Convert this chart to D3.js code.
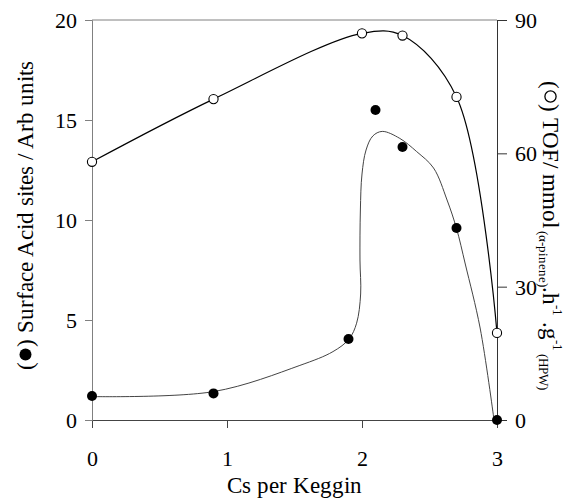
<!DOCTYPE html>
<html>
<head>
<meta charset="utf-8">
<script src="https://cdn.jsdelivr.net/npm/d3@7"></script>
<style>
  @font-face { font-family: "ChartSerif"; src: local("Liberation Serif"), local("LiberationSerif"), local("Tinos"); }
</style>
</head>
<body style="margin:0">
<svg id="chart" width="582" height="498"></svg>
<script>
// Cs loading (per Keggin unit)
const csTOF = [0, 0.9, 2.0, 2.3, 2.7, 3.0];
const tofValues = [58.1, 72.2, 87.0, 86.5, 72.7, 19.6];

const csAcid = [0, 0.9, 1.9, 2.1, 2.3, 2.7, 3.0];
const acidValues = [1.2, 1.33, 4.05, 15.5, 13.65, 9.6, 0];

// hand-drawn trend line through the acid-site data
const fitX = [0, 0.9, 1.54, 1.785, 1.904, 1.96, 1.99, 1.985, 1.988, 2.0, 2.03, 2.08, 2.15, 2.28, 2.405, 2.53, 2.63, 2.70, 2.765, 2.875, 2.975];
const fitY = [1.17, 1.42, 2.73, 3.42, 4.05, 4.84, 6.3, 8.0, 10.5, 12.3, 13.5, 14.2, 14.43, 14.08, 13.42, 12.6, 11.0, 9.58, 7.8, 4.6, 0.15];

const xTicks = [0, 1, 2, 3];
const leftTicks = [0, 5, 10, 15, 20];
const rightTicks = [0, 30, 60, 90];

const svg = d3.select("#chart");
const L = 92, R = 497, T = 20, B = 420;

const x = d3.scaleLinear().domain([0, 3]).range([L, R]);
const yL = d3.scaleLinear().domain([0, 20]).range([B, T]);
const yR = d3.scaleLinear().domain([0, 90]).range([B, T]);

const SERIF = 'ChartSerif, "Liberation Serif", "Times New Roman", serif';
function serif(sel, size) {
  return sel.attr("font-family", SERIF).style("font-family", SERIF).attr("font-size", size);
}

// frame
svg.append("line").attr("x1", L).attr("x2", R).attr("y1", T).attr("y2", T)
  .attr("stroke", "#808080").attr("stroke-width", 1);

function styleAxis(g, color) {
  serif(g, 22);
  g.selectAll("path").attr("stroke", color).attr("stroke-width", 1);
  g.selectAll("line").attr("stroke", color).attr("stroke-width", 1);
  serif(g.selectAll("text").attr("fill", "#000"), 22);
}

const gx = svg.append("g").attr("transform", `translate(0,${B})`)
  .call(d3.axisBottom(x).tickValues(xTicks).tickFormat(d3.format("d")).tickSizeOuter(0).tickSize(8).tickPadding(22));
styleAxis(gx, "#444");
gx.selectAll("text").attr("dy", "0.71em");

const gl = svg.append("g").attr("transform", `translate(${L},0)`)
  .call(d3.axisLeft(yL).tickValues(leftTicks).tickFormat(d3.format("d")).tickSizeOuter(0).tickSize(7).tickPadding(8));
styleAxis(gl, "#808080");
gl.selectAll("text").attr("dy", "0.34em");

const gr = svg.append("g").attr("transform", `translate(${R},0)`)
  .call(d3.axisRight(yR).tickValues(rightTicks).tickFormat(d3.format("d")).tickSizeOuter(0).tickSize(10).tickPadding(8));
styleAxis(gr, "#333");
gr.selectAll("text").attr("dy", "0.34em");

// acid-site trend line
const fitPts = fitX.map((d, i) => [x(d), yL(fitY[i])]);
svg.append("path")
  .attr("d", d3.line().curve(d3.curveCatmullRom.alpha(0.5))(fitPts))
  .attr("fill", "none").attr("stroke", "#444").attr("stroke-width", 1);

// TOF line through the points
const tofPts = csTOF.map((d, i) => [x(d), yR(tofValues[i])]);
svg.append("path")
  .attr("d", d3.line().curve(d3.curveCatmullRom.alpha(0.5))(tofPts))
  .attr("fill", "none").attr("stroke", "#000").attr("stroke-width", 1.2);

// acid-site markers
svg.append("g").selectAll("circle").data(csAcid).join("circle")
  .attr("cx", d => x(d)).attr("cy", (d, i) => yL(acidValues[i]))
  .attr("r", 5).attr("fill", "#000");

// TOF markers
svg.append("g").selectAll("circle").data(csTOF).join("circle")
  .attr("cx", d => x(d)).attr("cy", (d, i) => yR(tofValues[i]))
  .attr("r", 4.6).attr("fill", "#fff").attr("stroke", "#000").attr("stroke-width", 1.1);

// x title
serif(svg.append("text"), 23)
  .attr("x", (L + R) / 2).attr("y", 493)
  .attr("text-anchor", "middle")
  .text("Cs per Keggin");

// rotated title with a marker symbol drawn between the brackets
function symbolTitle(tx, ty, angle, build, filled) {
  const g = svg.append("g").attr("transform", `translate(${tx},${ty}) rotate(${angle})`);
  const t = serif(g.append("text"), 23).attr("x", 0).attr("y", 0);
  t.append("tspan").text("(");
  t.append("tspan").attr("dx", 15).text(")");
  build(t);
  const node = t.node();
  const len = node.getComputedTextLength();
  t.attr("x", -len / 2);
  const a = node.getStartPositionOfChar(1).x;
  const open = node.getStartPositionOfChar(0).x + node.getSubStringLength(0, 1);
  g.append("circle")
    .attr("cx", (open + a) / 2).attr("cy", -7.5).attr("r", filled ? 6 : 5.6)
    .attr("fill", filled ? "#000" : "#fff")
    .attr("stroke", "#000").attr("stroke-width", filled ? 0 : 1.3);
}

symbolTitle(33, 223, -90, t => {
  t.append("tspan").text(" Surface Acid sites / Arb units");
}, true);

symbolTitle(543, 228, 90, t => {
  t.append("tspan").text(" TOF/ mmol");
  t.append("tspan").attr("font-size", 13).attr("dy", 4).text(" (\u03B1-pinene)");
  t.append("tspan").attr("dy", -4).text(".h");
  t.append("tspan").attr("font-size", 13).attr("dy", -10).text("-1");
  t.append("tspan").attr("dy", 10).text(" .g");
  t.append("tspan").attr("font-size", 13).attr("dy", -10).text("-1");
  t.append("tspan").attr("font-size", 13).attr("dy", 14).text(" (HPW)");
}, false);
</script>
</body>
</html>
